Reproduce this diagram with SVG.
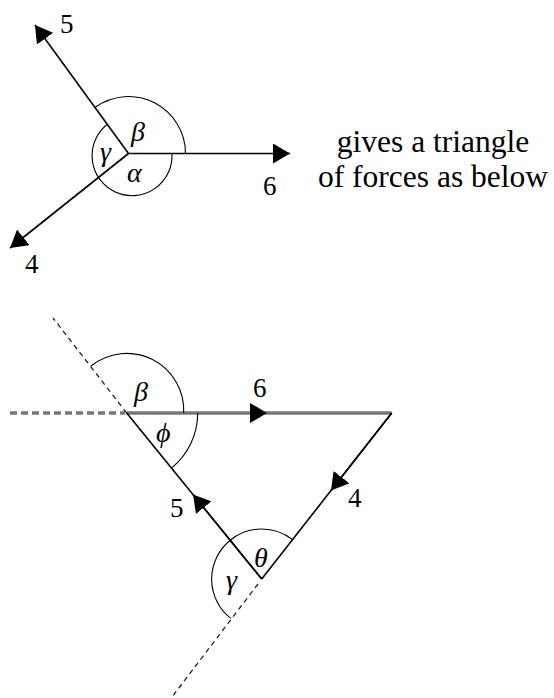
<svg xmlns="http://www.w3.org/2000/svg" width="554" height="698" viewBox="0 0 554 698">
<defs>
<marker id="ah" viewBox="0 0 17 20" refX="17" refY="10" markerWidth="17" markerHeight="20" markerUnits="userSpaceOnUse" orient="auto">
<path d="M0 0 L17 10 L0 20 Z" fill="#000"/>
</marker>
</defs>
<style>
.ln{stroke:#000;stroke-width:1.6;fill:none}
.gl{stroke:#777;stroke-width:3.5;fill:none}
.arc{stroke:#000;stroke-width:1.1;fill:none}
.dsh{stroke:#222;stroke-width:1.3;fill:none;stroke-dasharray:5 4}
.gdsh{stroke:#777;stroke-width:3.5;fill:none;stroke-dasharray:7 4}
.num{font-family:"Liberation Serif","Times New Roman",serif;font-size:27px;fill:#000}
.gk{font-family:"Liberation Serif","Times New Roman",serif;font-size:28px;font-style:italic;fill:#000}
.txt{font-family:"Liberation Serif","Times New Roman",serif;font-size:31.5px;fill:#000;text-anchor:middle}
</style>
<rect width="554" height="698" fill="#fff"/>
<g id="connectors">
<line class="ln" x1="128.5" y1="153.5" x2="290" y2="153.5" marker-end="url(#ah)"/>
<line class="ln" x1="128.5" y1="153.5" x2="35" y2="25" marker-end="url(#ah)"/>
<line class="ln" x1="128.5" y1="153.5" x2="10" y2="248" marker-end="url(#ah)"/>
<line class="gdsh" x1="10" y1="413" x2="125" y2="413"/>
<line class="dsh" x1="126.7" y1="413" x2="53" y2="318"/>
<line class="dsh" x1="258" y1="584" x2="172" y2="697"/>
<line class="gl" x1="126.7" y1="413" x2="391.7" y2="413"/>
<line class="ln" x1="126.7" y1="413" x2="267" y2="413" stroke-opacity="0" marker-end="url(#ah)"/>
<line class="ln" x1="391.7" y1="413" x2="261.7" y2="579"/>
<line class="ln" x1="391.7" y1="413" x2="331" y2="490.5" marker-end="url(#ah)"/>
<line class="ln" x1="261.7" y1="579" x2="126.7" y2="413"/>
<line class="ln" x1="261.7" y1="579" x2="193" y2="494.5" marker-end="url(#ah)"/>
</g>
<g id="angles-top">
<path class="arc" d="M 185.5 153.5 A 57 57 0 0 0 95.2 107.3"/>
<path class="arc" d="M 107 124.5 A 40 40 0 1 0 172 153.5"/>
</g>
<g id="angles-bottom">
<path class="arc" d="M 91 366 A 57 57 0 0 1 183.7 413"/>
<path class="arc" d="M 197.7 413 A 71 71 0 0 1 171.5 468.1"/>
<path class="arc" d="M 230.2 540.2 A 50 50 0 0 1 292.5 539.6"/>
<path class="arc" d="M 230.2 540.2 A 50 50 0 0 0 230.8 618.4"/>
</g>
<g id="labels-top">
<text class="num" x="60" y="33">5</text>
<text class="num" x="263" y="195">6</text>
<text class="num" x="25" y="273">4</text>
<text class="gk" x="131" y="141">β</text>
<text class="gk" x="100" y="161">γ</text>
<text class="gk" x="127" y="182">α</text>
</g>
<g id="caption">
<text class="txt" x="433" y="152">gives a triangle</text>
<text class="txt" x="433" y="187">of forces as below</text>
</g>
<g id="labels-bottom">
<text class="num" x="253" y="397">6</text>
<text class="num" x="170" y="517">5</text>
<text class="num" x="348" y="507">4</text>
<text class="gk" x="134" y="401">β</text>
<text class="gk" x="156" y="442">ϕ</text>
<text class="gk" x="254" y="567">θ</text>
<text class="gk" x="226" y="589">γ</text>
</g>
</svg>
